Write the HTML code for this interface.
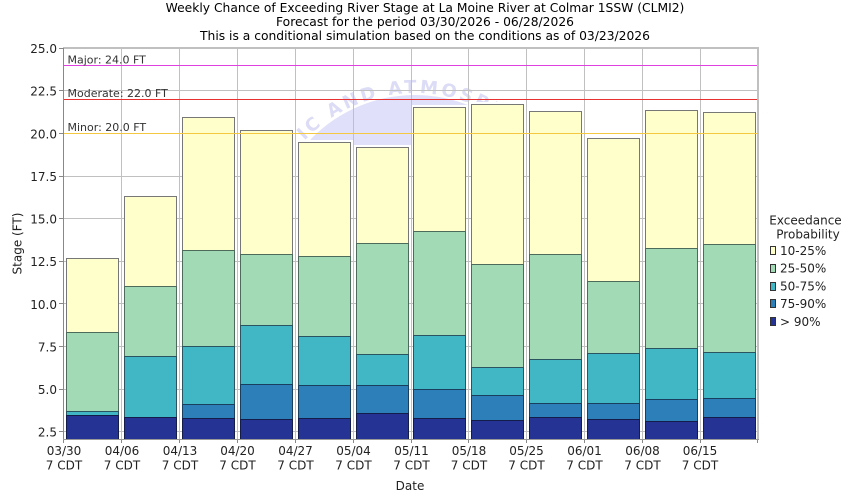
<!DOCTYPE html>
<html><head><meta charset="utf-8"><style>
html,body{margin:0;padding:0;background:#fff;}
svg{display:block;font-family:"DejaVu Sans","Liberation Sans",sans-serif;}
</style></head><body>
<svg width="850" height="500" viewBox="0 0 850 500" xmlns="http://www.w3.org/2000/svg">
<rect x="0" y="0" width="850" height="500" fill="#fff"/>
<!-- Title -->
<g font-size="12.3" fill="#000" text-anchor="middle">
<text x="425" y="12">Weekly Chance of Exceeding River Stage at La Moine River at Colmar 1SSW (CLMI2)</text>
<text x="425" y="26">Forecast for the period 03/30/2026 - 06/28/2026</text>
<text x="425" y="40">This is a conditional simulation based on the conditions as of 03/23/2026</text>
</g>
<!-- Plot clip -->
<defs><clipPath id="pc"><rect x="63" y="48" width="695" height="391"/></clipPath>
<path id="ring" d="M 263,245 A 152 152 0 1 1 567,245 A 152 152 0 1 1 263,245"/></defs>
<!-- Watermark -->
<g clip-path="url(#pc)">
<circle cx="415" cy="240" r="145" fill="#e0e0fa"/>
<text font-size="18" font-weight="bold" fill="#dcdcf6" letter-spacing="3"><textPath href="#ring" startOffset="30">OCEANIC AND ATMOSPHERIC ADMINISTRATION</textPath></text>
</g>
<!-- white bands behind bars -->
<g fill="#fff" shape-rendering="crispEdges">
<rect x="64" y="256" width="57" height="183"/>
<rect x="122" y="194" width="57" height="245"/>
<rect x="180" y="115" width="57" height="324"/>
<rect x="238" y="128" width="57" height="311"/>
<rect x="296" y="140" width="57" height="299"/>
<rect x="354" y="145" width="57" height="294"/>
<rect x="411" y="105" width="57" height="334"/>
<rect x="469" y="102" width="57" height="337"/>
<rect x="527" y="109" width="57" height="330"/>
<rect x="585" y="136" width="57" height="303"/>
<rect x="643" y="108" width="57" height="331"/>
<rect x="701" y="110" width="56" height="329"/>
</g>
<!-- Grid -->
<g stroke="#c0c0c0" stroke-width="1" shape-rendering="crispEdges">
<line x1="63" x2="758" y1="90.5" y2="90.5"/>
<line x1="63" x2="758" y1="176.5" y2="176.5"/>
<line x1="63" x2="758" y1="218.5" y2="218.5"/>
<line x1="63" x2="758" y1="261.5" y2="261.5"/>
<line x1="63" x2="758" y1="303.5" y2="303.5"/>
<line x1="63" x2="758" y1="346.5" y2="346.5"/>
<line x1="63" x2="758" y1="389.5" y2="389.5"/>
<line x1="63" x2="758" y1="431.5" y2="431.5"/>
<line x1="121.5" x2="121.5" y1="48" y2="439"/>
<line x1="179.5" x2="179.5" y1="48" y2="439"/>
<line x1="237.5" x2="237.5" y1="48" y2="439"/>
<line x1="295.5" x2="295.5" y1="48" y2="439"/>
<line x1="353.5" x2="353.5" y1="48" y2="439"/>
<line x1="411.5" x2="411.5" y1="48" y2="439"/>
<line x1="468.5" x2="468.5" y1="48" y2="439"/>
<line x1="526.5" x2="526.5" y1="48" y2="439"/>
<line x1="584.5" x2="584.5" y1="48" y2="439"/>
<line x1="642.5" x2="642.5" y1="48" y2="439"/>
<line x1="700.5" x2="700.5" y1="48" y2="439"/>
</g>
<!-- Bars -->
<g shape-rendering="crispEdges" stroke-width="1">
<g transform="translate(66.5,0)">
<rect x="0" y="258.5" width="52" height="74" fill="#ffffcc" stroke="#777"/>
<rect x="0" y="332.5" width="52" height="79" fill="#a1dab4" stroke="#4d6b5a"/>
<rect x="0" y="411.5" width="52" height="4" fill="#41b6c4" stroke="#2a5560"/>
<rect x="0" y="415.5" width="52" height="24" fill="#253494" stroke="#141c4a"/>
</g>
<g transform="translate(124.5,0)">
<rect x="0" y="196.5" width="52" height="90" fill="#ffffcc" stroke="#777"/>
<rect x="0" y="286.5" width="52" height="70" fill="#a1dab4" stroke="#4d6b5a"/>
<rect x="0" y="356.5" width="52" height="61" fill="#41b6c4" stroke="#2a5560"/>
<rect x="0" y="417.5" width="52" height="22" fill="#253494" stroke="#141c4a"/>
</g>
<g transform="translate(182.5,0)">
<rect x="0" y="117.5" width="52" height="133" fill="#ffffcc" stroke="#777"/>
<rect x="0" y="250.5" width="52" height="96" fill="#a1dab4" stroke="#4d6b5a"/>
<rect x="0" y="346.5" width="52" height="58" fill="#41b6c4" stroke="#2a5560"/>
<rect x="0" y="404.5" width="52" height="14" fill="#2c7fb8" stroke="#1a3f5e"/>
<rect x="0" y="418.5" width="52" height="21" fill="#253494" stroke="#141c4a"/>
</g>
<g transform="translate(240.5,0)">
<rect x="0" y="130.5" width="52" height="124" fill="#ffffcc" stroke="#777"/>
<rect x="0" y="254.5" width="52" height="71" fill="#a1dab4" stroke="#4d6b5a"/>
<rect x="0" y="325.5" width="52" height="59" fill="#41b6c4" stroke="#2a5560"/>
<rect x="0" y="384.5" width="52" height="35" fill="#2c7fb8" stroke="#1a3f5e"/>
<rect x="0" y="419.5" width="52" height="20" fill="#253494" stroke="#141c4a"/>
</g>
<g transform="translate(298.5,0)">
<rect x="0" y="142.5" width="52" height="114" fill="#ffffcc" stroke="#777"/>
<rect x="0" y="256.5" width="52" height="80" fill="#a1dab4" stroke="#4d6b5a"/>
<rect x="0" y="336.5" width="52" height="49" fill="#41b6c4" stroke="#2a5560"/>
<rect x="0" y="385.5" width="52" height="33" fill="#2c7fb8" stroke="#1a3f5e"/>
<rect x="0" y="418.5" width="52" height="21" fill="#253494" stroke="#141c4a"/>
</g>
<g transform="translate(356.5,0)">
<rect x="0" y="147.5" width="52" height="96" fill="#ffffcc" stroke="#777"/>
<rect x="0" y="243.5" width="52" height="111" fill="#a1dab4" stroke="#4d6b5a"/>
<rect x="0" y="354.5" width="52" height="31" fill="#41b6c4" stroke="#2a5560"/>
<rect x="0" y="385.5" width="52" height="28" fill="#2c7fb8" stroke="#1a3f5e"/>
<rect x="0" y="413.5" width="52" height="26" fill="#253494" stroke="#141c4a"/>
</g>
<g transform="translate(413.5,0)">
<rect x="0" y="107.5" width="52" height="124" fill="#ffffcc" stroke="#777"/>
<rect x="0" y="231.5" width="52" height="104" fill="#a1dab4" stroke="#4d6b5a"/>
<rect x="0" y="335.5" width="52" height="54" fill="#41b6c4" stroke="#2a5560"/>
<rect x="0" y="389.5" width="52" height="29" fill="#2c7fb8" stroke="#1a3f5e"/>
<rect x="0" y="418.5" width="52" height="21" fill="#253494" stroke="#141c4a"/>
</g>
<g transform="translate(471.5,0)">
<rect x="0" y="104.5" width="52" height="160" fill="#ffffcc" stroke="#777"/>
<rect x="0" y="264.5" width="52" height="103" fill="#a1dab4" stroke="#4d6b5a"/>
<rect x="0" y="367.5" width="52" height="28" fill="#41b6c4" stroke="#2a5560"/>
<rect x="0" y="395.5" width="52" height="25" fill="#2c7fb8" stroke="#1a3f5e"/>
<rect x="0" y="420.5" width="52" height="19" fill="#253494" stroke="#141c4a"/>
</g>
<g transform="translate(529.5,0)">
<rect x="0" y="111.5" width="52" height="143" fill="#ffffcc" stroke="#777"/>
<rect x="0" y="254.5" width="52" height="105" fill="#a1dab4" stroke="#4d6b5a"/>
<rect x="0" y="359.5" width="52" height="44" fill="#41b6c4" stroke="#2a5560"/>
<rect x="0" y="403.5" width="52" height="14" fill="#2c7fb8" stroke="#1a3f5e"/>
<rect x="0" y="417.5" width="52" height="22" fill="#253494" stroke="#141c4a"/>
</g>
<g transform="translate(587.5,0)">
<rect x="0" y="138.5" width="52" height="143" fill="#ffffcc" stroke="#777"/>
<rect x="0" y="281.5" width="52" height="72" fill="#a1dab4" stroke="#4d6b5a"/>
<rect x="0" y="353.5" width="52" height="50" fill="#41b6c4" stroke="#2a5560"/>
<rect x="0" y="403.5" width="52" height="16" fill="#2c7fb8" stroke="#1a3f5e"/>
<rect x="0" y="419.5" width="52" height="20" fill="#253494" stroke="#141c4a"/>
</g>
<g transform="translate(645.5,0)">
<rect x="0" y="110.5" width="52" height="138" fill="#ffffcc" stroke="#777"/>
<rect x="0" y="248.5" width="52" height="100" fill="#a1dab4" stroke="#4d6b5a"/>
<rect x="0" y="348.5" width="52" height="51" fill="#41b6c4" stroke="#2a5560"/>
<rect x="0" y="399.5" width="52" height="22" fill="#2c7fb8" stroke="#1a3f5e"/>
<rect x="0" y="421.5" width="52" height="18" fill="#253494" stroke="#141c4a"/>
</g>
<g transform="translate(703.5,0)">
<rect x="0" y="112.5" width="52" height="132" fill="#ffffcc" stroke="#777"/>
<rect x="0" y="244.5" width="52" height="108" fill="#a1dab4" stroke="#4d6b5a"/>
<rect x="0" y="352.5" width="52" height="46" fill="#41b6c4" stroke="#2a5560"/>
<rect x="0" y="398.5" width="52" height="19" fill="#2c7fb8" stroke="#1a3f5e"/>
<rect x="0" y="417.5" width="52" height="22" fill="#253494" stroke="#141c4a"/>
</g>
</g>
<!-- Threshold lines -->
<g stroke-width="1" shape-rendering="crispEdges">
<line x1="64" x2="757" y1="65.5" y2="65.5" stroke="#e040e0"/>
<line x1="64" x2="757" y1="99.5" y2="99.5" stroke="#e83232"/>
<line x1="64" x2="757" y1="133.5" y2="133.5" stroke="#f5c842"/>
</g>
<g font-size="11" fill="#333">
<text x="67.5" y="63.5">Major: 24.0 FT</text>
<text x="67.5" y="97">Moderate: 22.0 FT</text>
<text x="67.5" y="131">Minor: 20.0 FT</text>
</g>
<!-- Frame -->
<g shape-rendering="crispEdges">
<rect x="63" y="47" width="695" height="2" fill="#c0c0c0"/>
<rect x="757" y="47" width="2" height="393" fill="#c0c0c0"/>
<line x1="63.5" x2="63.5" y1="48" y2="440" stroke="#888" stroke-width="1"/>
<line x1="63" x2="759" y1="439.5" y2="439.5" stroke="#999" stroke-width="1"/>
</g>
<!-- Ticks -->
<g stroke="#888" shape-rendering="crispEdges">
<line x1="59" x2="63" y1="48.5" y2="48.5"/>
<line x1="59" x2="63" y1="90.5" y2="90.5"/>
<line x1="59" x2="63" y1="133.5" y2="133.5"/>
<line x1="59" x2="63" y1="176.5" y2="176.5"/>
<line x1="59" x2="63" y1="218.5" y2="218.5"/>
<line x1="59" x2="63" y1="261.5" y2="261.5"/>
<line x1="59" x2="63" y1="303.5" y2="303.5"/>
<line x1="59" x2="63" y1="346.5" y2="346.5"/>
<line x1="59" x2="63" y1="389.5" y2="389.5"/>
<line x1="59" x2="63" y1="431.5" y2="431.5"/>
<line x1="63.5" x2="63.5" y1="440" y2="443"/>
<line x1="121.5" x2="121.5" y1="440" y2="443"/>
<line x1="179.5" x2="179.5" y1="440" y2="443"/>
<line x1="237.5" x2="237.5" y1="440" y2="443"/>
<line x1="295.5" x2="295.5" y1="440" y2="443"/>
<line x1="353.5" x2="353.5" y1="440" y2="443"/>
<line x1="411.5" x2="411.5" y1="440" y2="443"/>
<line x1="468.5" x2="468.5" y1="440" y2="443"/>
<line x1="526.5" x2="526.5" y1="440" y2="443"/>
<line x1="584.5" x2="584.5" y1="440" y2="443"/>
<line x1="642.5" x2="642.5" y1="440" y2="443"/>
<line x1="700.5" x2="700.5" y1="440" y2="443"/>
<line x1="757.5" x2="757.5" y1="440" y2="443"/>
</g>
<!-- Y labels -->
<g font-size="12" fill="#222" text-anchor="end">
<text x="57" y="53">25.0</text>
<text x="57" y="95.7">22.5</text>
<text x="57" y="138.3">20.0</text>
<text x="57" y="181">17.5</text>
<text x="57" y="223.6">15.0</text>
<text x="57" y="266.2">12.5</text>
<text x="57" y="308.8">10.0</text>
<text x="57" y="351.4">7.5</text>
<text x="57" y="394">5.0</text>
<text x="57" y="436.6">2.5</text>
</g>
<text font-size="12" fill="#222" text-anchor="middle" transform="translate(21.5,243.5) rotate(-90)">Stage (FT)</text>
<!-- X labels -->
<g font-size="12" fill="#222" text-anchor="middle">
<text x="64" y="455">03/30</text><text x="64" y="469.5">7 CDT</text>
<text x="122" y="455">04/06</text><text x="122" y="469.5">7 CDT</text>
<text x="180" y="455">04/13</text><text x="180" y="469.5">7 CDT</text>
<text x="237.5" y="455">04/20</text><text x="237.5" y="469.5">7 CDT</text>
<text x="295.5" y="455">04/27</text><text x="295.5" y="469.5">7 CDT</text>
<text x="353.5" y="455">05/04</text><text x="353.5" y="469.5">7 CDT</text>
<text x="411.5" y="455">05/11</text><text x="411.5" y="469.5">7 CDT</text>
<text x="469" y="455">05/18</text><text x="469" y="469.5">7 CDT</text>
<text x="526.5" y="455">05/25</text><text x="526.5" y="469.5">7 CDT</text>
<text x="584.5" y="455">06/01</text><text x="584.5" y="469.5">7 CDT</text>
<text x="642.5" y="455">06/08</text><text x="642.5" y="469.5">7 CDT</text>
<text x="700" y="455">06/15</text><text x="700" y="469.5">7 CDT</text>
<text x="410" y="490">Date</text>
</g>
<!-- Legend -->
<g font-size="12" fill="#222">
<text x="805.5" y="224.5" text-anchor="middle">Exceedance</text>
<text x="808" y="238.5" text-anchor="middle">Probability</text>
<g shape-rendering="crispEdges" stroke="#333">
<rect x="770.5" y="246.5" width="5" height="8" fill="#ffffcc"/>
<rect x="770.5" y="264.5" width="5" height="8" fill="#a1dab4"/>
<rect x="770.5" y="282.5" width="5" height="8" fill="#41b6c4"/>
<rect x="770.5" y="299.5" width="5" height="8" fill="#2c7fb8"/>
<rect x="770.5" y="317.5" width="5" height="8" fill="#253494"/>
</g>
<text x="780" y="255">10-25%</text>
<text x="780" y="272.7">25-50%</text>
<text x="780" y="290.4">50-75%</text>
<text x="780" y="308.1">75-90%</text>
<text x="780" y="325.8">&gt; 90%</text>
</g>
</svg>
</body></html>
